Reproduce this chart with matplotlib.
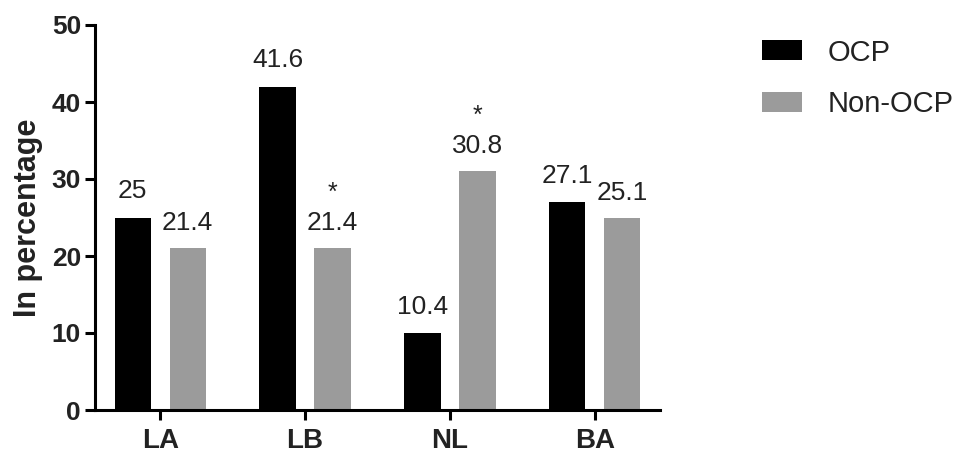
import matplotlib.pyplot as plt
import numpy as np

plt.rcParams['font.family'] = ['Liberation Sans', 'DejaVu Sans']

categories = ["LA", "LB", "NL", "BA"]
ocp_heights = [25, 42, 10, 27]
non_ocp_heights = [21, 21, 31, 25]
ocp_labels = ["25", "41.6", "10.4", "27.1"]
non_ocp_labels = ["21.4", "21.4", "30.8", "25.1"]
non_ocp_star = [False, True, True, False]
series_names = ["OCP", "Non-OCP"]

BLACK = "#000000"
GRAY = "#9b9b9b"
TEXT = "#222222"

fig = plt.figure(figsize=(9.65, 4.55), dpi=100)
ax = fig.add_axes([95 / 965, 1 - 410 / 455, (660 - 95) / 965, (410 - 25) / 455])

x = np.arange(len(categories))
off = 0.19
w = 0.25
b1 = ax.bar(x - off, ocp_heights, w, color=BLACK, label=series_names[0])
b2 = ax.bar(x + off, non_ocp_heights, w, color=GRAY, label=series_names[1])

# value labels above bars
for xi, h, lab in zip(x - off, ocp_heights, ocp_labels):
    ax.annotate(lab, (xi, h), xytext=(0, 19), textcoords="offset points",
                ha="center", va="center", fontsize=19, color=TEXT)
for xi, h, lab, star in zip(x + off, non_ocp_heights, non_ocp_labels, non_ocp_star):
    ax.annotate(lab, (xi, h), xytext=(0, 18), textcoords="offset points",
                ha="center", va="center", fontsize=19, color=TEXT)
    if star:
        ax.annotate("*", (xi, h), xytext=(0, 40), textcoords="offset points",
                    ha="center", va="center", fontsize=18, color=TEXT)

ax.set_xlim(-0.45, 3.45)
ax.set_ylim(0, 50)
ax.set_yticks([0, 10, 20, 30, 40, 50])
ax.set_xticks(x)
ax.set_xticklabels(categories)

for s in ["top", "right"]:
    ax.spines[s].set_visible(False)
for s in ["left", "bottom"]:
    ax.spines[s].set_linewidth(2.2)
    ax.spines[s].set_color("black")

ax.tick_params(axis="y", length=7, width=2.2, pad=3, labelsize=19)
ax.tick_params(axis="x", length=7, width=2.2, pad=6, labelsize=20)
for t in ax.get_yticklabels() + ax.get_xticklabels():
    t.set_fontweight("bold")
    t.set_color(TEXT)

ax.set_ylabel("In percentage", fontsize=22, fontweight="bold", color=TEXT, labelpad=6)

fig.legend(handles=[b1, b2], loc="upper left", bbox_to_anchor=(747 / 965, 1 - 24 / 455),
           frameon=False, fontsize=21, handlelength=1.4, handleheight=0.68,
           handletextpad=0.86, labelspacing=0.8, borderpad=0, labelcolor=TEXT)

fig.savefig("out.png", dpi=100)
